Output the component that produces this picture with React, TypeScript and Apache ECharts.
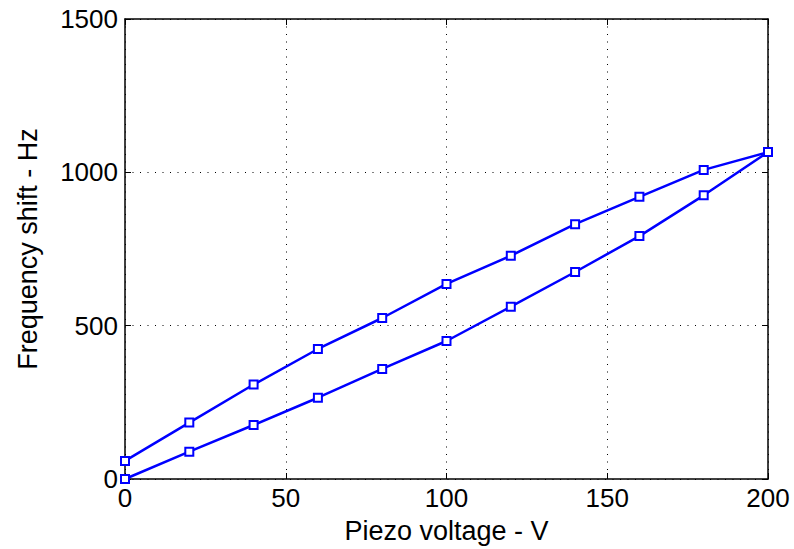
import React, { useEffect, useRef } from "react";
import * as echarts from "echarts";

const voltages = [0, 20, 40, 60, 80, 100, 120, 140, 160, 180, 200];
const upperBranch = [59, 184, 308, 424, 525, 636, 728, 831, 920, 1008, 1066];
const lowerBranch = [0, 89, 176, 265, 359, 450, 562, 675, 792, 925, 1066];
const xTicks = [0, 50, 100, 150, 200];
const yTicks = [0, 500, 1000, 1500];

const FONT = "Liberation Sans, Arial, sans-serif";
const BLUE = "#0000ff";

export default function App() {
  const ref = useRef<HTMLDivElement>(null);
  useEffect(() => {
    if (!ref.current) return;
    const chart = echarts.init(ref.current, undefined, { renderer: "svg" });
    const mk = (vals: number[]) => voltages.map((v, i) => [v, vals[i]]);
    const seriesStyle = {
      type: "line" as const,
      symbol: "rect",
      symbolSize: 8,
      showAllSymbol: true,
      lineStyle: { color: BLUE, width: 2.5 },
      itemStyle: { color: "#ffffff", borderColor: BLUE, borderWidth: 2 },
      z: 5,
    };
    const fmt = (v: number) => String(v);
    chart.setOption({
      animation: false,
      backgroundColor: "#ffffff",
      grid: { left: 125, right: 26, top: 19, bottom: 70, containLabel: false },
      xAxis: [
        {
          type: "value",
          min: xTicks[0],
          max: xTicks[xTicks.length - 1],
          interval: 50,
          name: "Piezo voltage - V",
          nameLocation: "middle",
          nameGap: 38,
          nameTextStyle: { fontFamily: FONT, fontSize: 27, color: "#000" },
          axisLine: { show: true, onZero: false, lineStyle: { color: "#000", width: 1.5 } },
          axisTick: { show: true, inside: true, length: 6, lineStyle: { color: "#000" } },
          axisLabel: { fontFamily: FONT, fontSize: 26, color: "#000", margin: 6, formatter: fmt },
          splitLine: { show: true, lineStyle: { color: "#000", width: 1, type: [1, 6.5] } },
        },
        {
          type: "value",
          position: "top",
          min: xTicks[0],
          max: xTicks[xTicks.length - 1],
          interval: 50,
          axisLine: { show: true, onZero: false, lineStyle: { color: "#000", width: 1.5 } },
          axisTick: { show: true, inside: true, length: 6, lineStyle: { color: "#000" } },
          axisLabel: { show: false },
          splitLine: { show: false },
        },
      ],
      yAxis: [
        {
          type: "value",
          min: yTicks[0],
          max: yTicks[yTicks.length - 1],
          interval: 500,
          name: "Frequency shift - Hz",
          nameLocation: "middle",
          nameGap: 84,
          nameTextStyle: { fontFamily: FONT, fontSize: 27, color: "#000" },
          axisLine: { show: true, onZero: false, lineStyle: { color: "#000", width: 1.5 } },
          axisTick: { show: true, inside: true, length: 6, lineStyle: { color: "#000" } },
          axisLabel: { fontFamily: FONT, fontSize: 26, color: "#000", margin: 7, formatter: fmt },
          splitLine: { show: true, lineStyle: { color: "#000", width: 1, type: [1, 6.5] } },
        },
        {
          type: "value",
          position: "right",
          min: yTicks[0],
          max: yTicks[yTicks.length - 1],
          interval: 500,
          axisLine: { show: true, onZero: false, lineStyle: { color: "#000", width: 1.5 } },
          axisTick: { show: true, inside: true, length: 6, lineStyle: { color: "#000" } },
          axisLabel: { show: false },
          splitLine: { show: false },
        },
      ],
      series: [
        { ...seriesStyle, name: "Decreasing", data: mk(upperBranch) },
        { ...seriesStyle, name: "Increasing", data: mk(lowerBranch) },
      ],
    });
    return () => chart.dispose();
  }, []);
  return (
    <div
      ref={ref}
      style={{ position: "fixed", left: 0, top: 0, width: 794, height: 549, background: "#fff" }}
    />
  );
}
